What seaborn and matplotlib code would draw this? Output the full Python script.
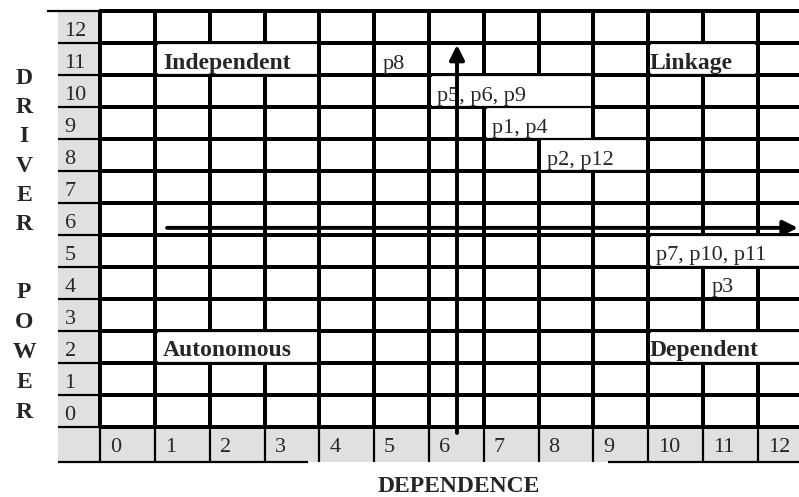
"""
MICMAC analysis grid: driving power vs dependence of the factors p1..p12.
"""

import numpy as np
import pandas as pd
import matplotlib

matplotlib.use("Agg")
from matplotlib import pyplot as plt
from matplotlib.colors import ListedColormap
from matplotlib.patches import Rectangle
import seaborn as sns

# grid values on both axes
dependence_values = list(range(13))
driver_values = list(range(13))

# factor clusters: label, dependence, driving power, number of cells the label spans
cluster_labels = ["p8", "p5, p6, p9", "p1, p4", "p2, p12", "p7, p10, p11", "p3"]
cluster_dependence = [5, 6, 7, 8, 10, 11]
cluster_driver = [11, 10, 9, 8, 5, 4]
cluster_span = [1, 3, 2, 2, 3, 1]

# quadrant names
quadrant_labels = ["Independent", "Linkage", "Autonomous", "Dependent"]
quadrant_dependence = [1, 10, 1, 10]
quadrant_driver = [11, 11, 2, 2]
quadrant_span = [3, 2, 3, 3]

# quadrant dividers
mid_dependence = 6
mid_driver = 6

x_title = "DEPENDENCE"
y_title_top = "DRIVER"
y_title_bottom = "POWER"

# layout (in grid units unless noted)
HEAD_W = 0.77      # width of the row-header column
LABEL_H = 1.1      # height of the column-header row
X_MAX = 12.75      # table is cut at the right edge
GREY = "#e0e0e0"
LW = 1.6
W, H = 799, 497    # figure size in pixels

sns.set_theme(style="white")
plt.rcParams["font.family"] = ["Liberation Serif", "DejaVu Serif"]

fig = plt.figure(figsize=(W / 100, H / 100), dpi=100)
ax = fig.add_axes([58 / W, (H - 464) / H, (W - 58) / W, (464 - 9) / H])

# the main cell grid
grid = pd.DataFrame(
    np.zeros((len(driver_values), len(dependence_values))),
    index=driver_values,
    columns=dependence_values,
)
sns.heatmap(
    grid,
    cmap=ListedColormap(["white"]),
    cbar=False,
    linewidths=LW,
    linecolor="black",
    xticklabels=False,
    yticklabels=False,
    ax=ax,
)
ax.set_xlim(-HEAD_W, X_MAX)
ax.set_ylim(-LABEL_H - 0.06, 13.06)
ax.set_axis_off()

# grey header column and row
ax.add_patch(Rectangle((-HEAD_W, -LABEL_H), HEAD_W, 13 + LABEL_H,
                       facecolor=GREY, edgecolor="none", zorder=0.5))
ax.add_patch(Rectangle((-HEAD_W, -LABEL_H), X_MAX + HEAD_W, LABEL_H,
                       facecolor=GREY, edgecolor="none", zorder=0.5))

# merged cells under the longer labels (hide the inner cell borders)
for c, d, s in zip(cluster_dependence + quadrant_dependence,
                   cluster_driver + quadrant_driver,
                   cluster_span + quadrant_span):
    if s > 1:
        ax.add_patch(Rectangle((c + 0.05, d), s - 0.1, 1,
                               facecolor="white", edgecolor="none", zorder=2))

# row borders drawn again on top, plus the header borders
ax.hlines(range(14), -HEAD_W, X_MAX, colors="black", lw=LW, zorder=3)
ax.vlines(range(13), -LABEL_H, 0, colors="black", lw=LW, zorder=3)
ax.hlines(13, -0.97, -HEAD_W, colors="black", lw=LW, zorder=3, clip_on=False)
ax.hlines([-LABEL_H, -LABEL_H], [-HEAD_W, 9.27], [3.8, X_MAX],
          colors="black", lw=LW, zorder=3)

for d in driver_values:
    ax.text(-HEAD_W + 0.12, d + 0.22, str(d), ha="left", va="baseline",
            fontsize=16, zorder=4)
for c in dependence_values:
    ax.text(c + 0.18, -LABEL_H + 0.31, str(c), ha="left", va="baseline",
            fontsize=16, zorder=4)

for label, c, d in zip(cluster_labels, cluster_dependence, cluster_driver):
    ax.text(c + 0.15, d + 0.2, label, ha="left", va="baseline",
            fontsize=16, zorder=4)

for label, c, d in zip(quadrant_labels, quadrant_dependence, quadrant_driver):
    pad = 0.15 if c < mid_dependence else 0.02
    ax.text(c + pad, d + 0.2, label, ha="left", va="baseline",
            fontsize=17, fontweight="bold", zorder=4)

# quadrant arrows
arrow = dict(arrowstyle="-|>", lw=2.8, color="black", mutation_scale=22,
             shrinkA=0, shrinkB=0)
ax.annotate("", xy=(X_MAX - 0.02, mid_driver + 0.22),
            xytext=(1.22, mid_driver + 0.22),
            arrowprops=arrow, annotation_clip=False, zorder=5)
ax.annotate("", xy=(mid_dependence + 0.51, 11.94),
            xytext=(mid_dependence + 0.51, -0.19),
            arrowprops=arrow, annotation_clip=False, zorder=5)

# axis titles
for i, letter in enumerate(y_title_top):
    fig.text(24 / W, 1 - (76 + 29.2 * i + 8) / H, letter, ha="center",
             va="baseline", fontsize=17, fontweight="bold")
for i, letter in enumerate(y_title_bottom):
    fig.text(24 / W, 1 - (290 + 30 * i + 8) / H, letter, ha="center",
             va="baseline", fontsize=17, fontweight="bold")
fig.text(459 / W, 1 - 492 / H, x_title, ha="center", va="baseline",
         fontsize=17, fontweight="bold")

fig.savefig("out.png", dpi=100)
